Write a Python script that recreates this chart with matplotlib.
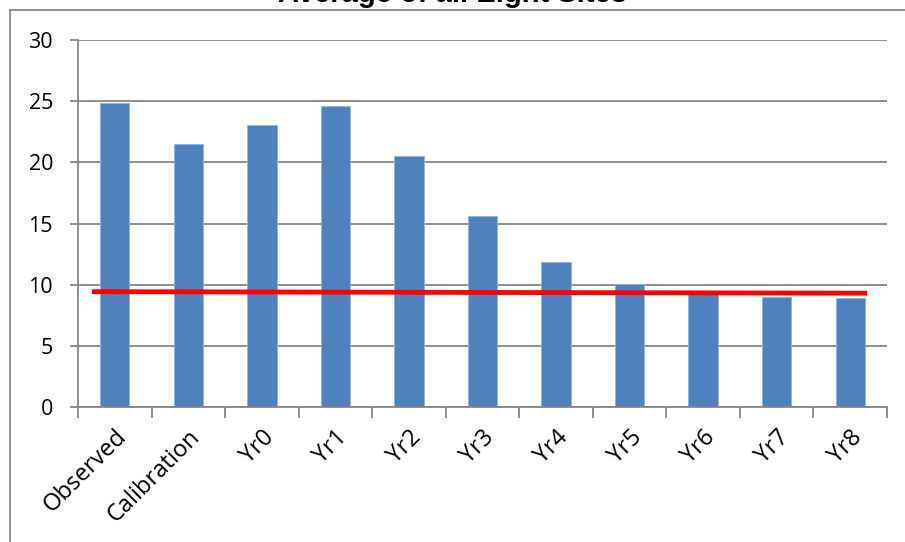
import matplotlib
matplotlib.use("Agg")
import matplotlib.pyplot as plt
from matplotlib.lines import Line2D

categories = ["Observed", "Calibration", "Yr0", "Yr1", "Yr2", "Yr3", "Yr4", "Yr5", "Yr6", "Yr7", "Yr8"]
values = [24.85, 21.5, 23.05, 24.6, 20.5, 15.65, 11.85, 10.05, 9.3, 9.0, 8.9]
line_x = [-0.31, 10.23]
line_y = [9.43, 9.3]
yticks = [0, 5, 10, 15, 20, 25, 30]
title = "Average of all Eight Sites"

W, H = 905, 542
fig = plt.figure(figsize=(W / 100, H / 100), dpi=100)
ax = fig.add_axes([78 / W, 1 - 407 / H, (887 - 78) / W, (407 - 40) / H])

# figure frame (chart area border)
fig.add_artist(Line2D([10 / W, 10 / W], [0, 1 - 10 / H], transform=fig.transFigure, color="#868686", lw=1.3))
fig.add_artist(Line2D([10 / W, 1], [1 - 10 / H, 1 - 10 / H], transform=fig.transFigure, color="#868686", lw=1.3))

fig.text(0.5, 1 - 2 / H, title, ha="center", va="baseline", fontsize=21,
         fontweight="bold", family="Liberation Sans")

x = list(range(len(categories)))
ax.bar(x, values, width=0.4, color="#4F81BD", zorder=2, edgecolor="#8DB3E2", linewidth=0.6)
ax.plot(line_x, line_y, color="#FF0000", lw=3.5, zorder=3, solid_capstyle="butt")

ax.set_xlim(-0.5, len(categories) - 0.5)
ax.set_ylim(0, 30)
ax.set_yticks(yticks)
ax.set_yticklabels([str(v) for v in yticks], fontsize=15.5, family="Open Sans")
ax.yaxis.grid(True, color="#868686", lw=1.3, zorder=0)
ax.set_axisbelow(True)

ax.set_xticks([i - 0.5 for i in range(len(categories) + 1)], minor=False)
ax.set_xticklabels([])
ax.set_xticks(x, minor=True)
ax.set_xticklabels(categories, minor=True, rotation=45, ha="right", va="top",
                   rotation_mode="anchor", fontsize=17, family="Open Sans")
ax.tick_params(axis="x", which="major", length=8, width=1.3, color="#868686")
ax.tick_params(axis="x", which="minor", length=0, pad=13)
ax.tick_params(axis="y", length=6, width=1.3, color="#868686", pad=12)

for s in ["top", "right"]:
    ax.spines[s].set_visible(False)
for s in ["left", "bottom"]:
    ax.spines[s].set_color("#868686")
    ax.spines[s].set_linewidth(1.3)

fig.savefig("out.png", dpi=100)
